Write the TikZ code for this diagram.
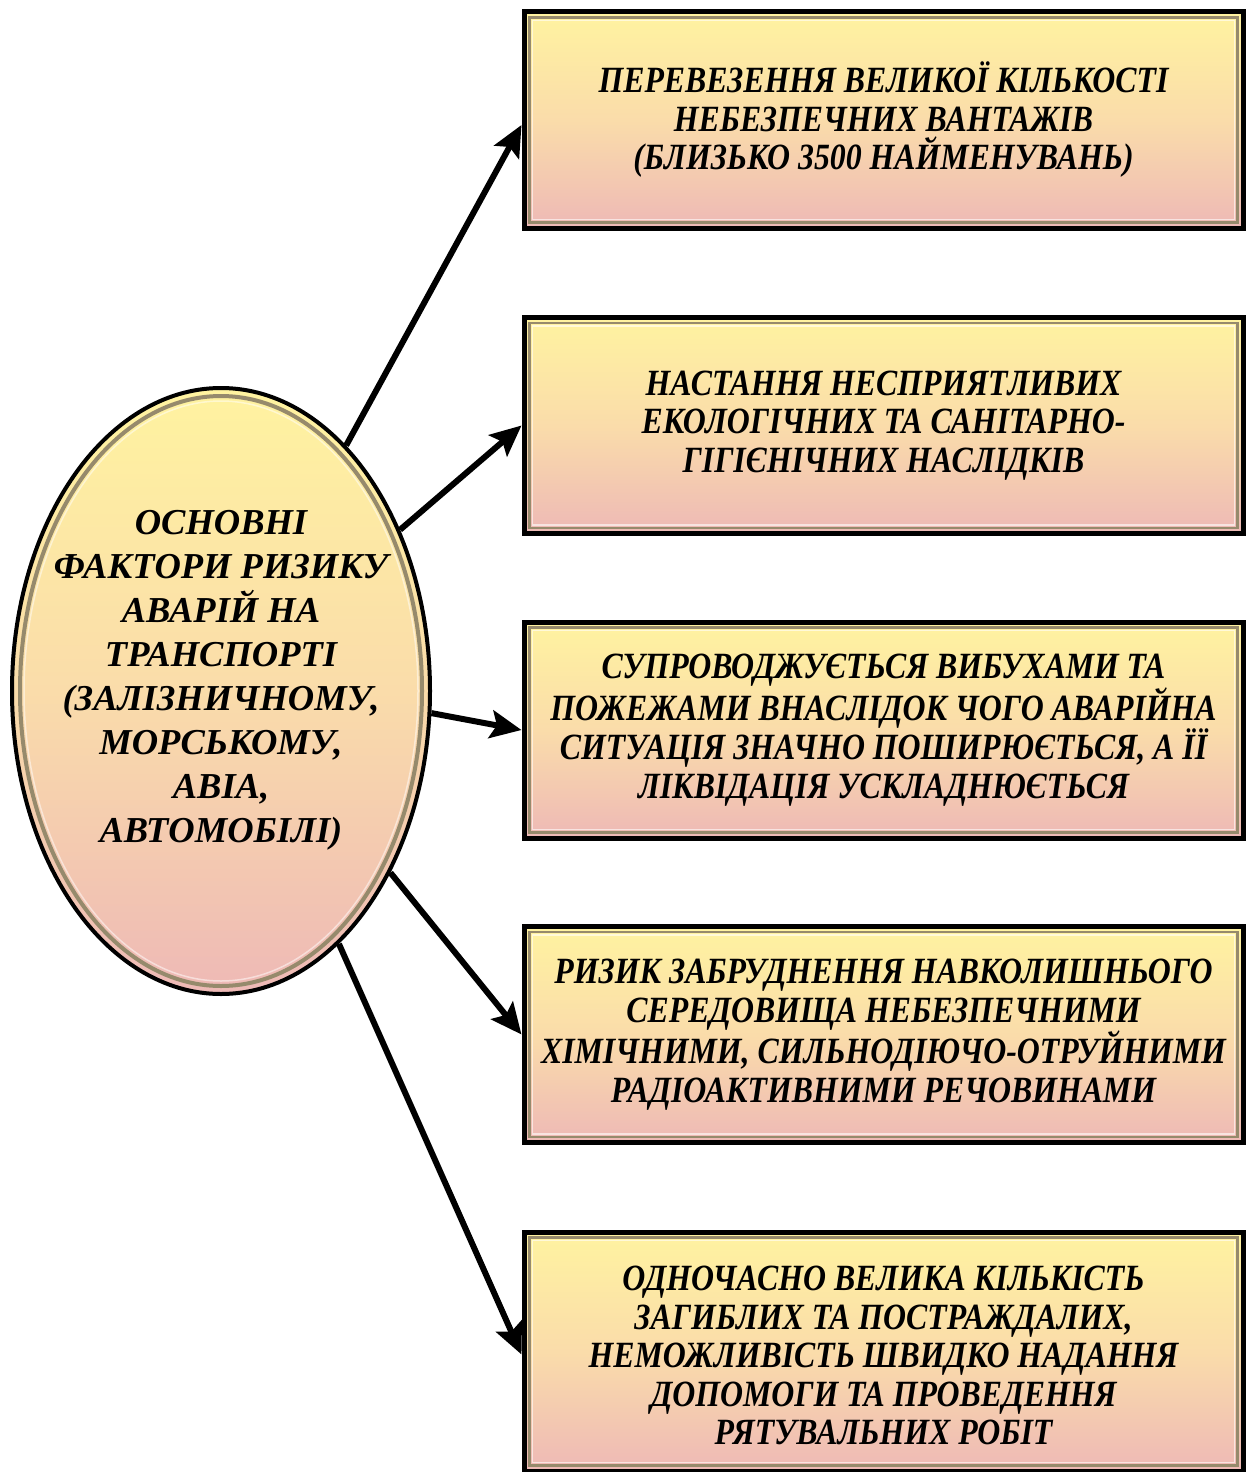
\documentclass[tikz,border=0pt]{standalone}
\usepackage{fontspec}
\setmainfont{Liberation Serif}
\newfontfamily\condfont[FakeStretch=0.86]{Liberation Serif}
\usetikzlibrary{shapes.geometric,arrows.meta}
\definecolor{ytop}{RGB}{255,243,160}
\definecolor{ymid}{RGB}{250,220,170}
\definecolor{ybot}{RGB}{238,185,182}
\definecolor{bev}{RGB}{150,138,108}
\begin{document}
\begin{tikzpicture}[x=1pt,y=-1pt,
  factor/.style={draw=black, line width=5pt, rectangle, minimum width=719pt,
    minimum height=216pt, inner sep=0pt, top color=ytop, bottom color=ybot,
    middle color=ymid},
  factortext/.style={align=center, inner sep=0pt,
    font=\condfont\bfseries\itshape\fontsize{37}{38.5}\selectfont},
  bevel/.style={draw=bev, line width=2.5pt},
  bevlight/.style={draw=white, line width=1.5pt, opacity=0.6},
  centre/.style={draw=black, line width=4pt, ellipse, minimum width=418pt,
    minimum height=606pt, inner sep=0pt, top color=ytop, bottom color=ybot,
    middle color=ymid},
  centretext/.style={align=center, inner sep=0pt,
    font=\bfseries\itshape\fontsize{36.5}{44}\selectfont},
  link/.style={line width=6pt, -{Stealth[length=31pt,width=28pt,inset=6pt]}}]
\useasboundingbox (0,0) rectangle (1246,1472);

\node[centre] (ell) at (221,691) {};
\draw[draw=bev, line width=4pt] (ell.center) ellipse [x radius=201pt, y radius=295pt];
\draw[draw=white, line width=1.5pt, opacity=0.5] (ell.center) ellipse [x radius=197pt, y radius=290pt];
\node[centretext] (elltext) at (221,680) {ОСНОВНІ\\ФАКТОРИ РИЗИКУ\\АВАРІЙ НА\\ТРАНСПОРТІ\\(ЗАЛІЗНИЧНОМУ,\\МОРСЬКОМУ,\\АВІА,\\АВТОМОБІЛІ)};

\node[factor] (b1) at (883.5,120) {};
\node[factor] (b2) at (883.5,425.5) {};
\node[factor] (b3) at (883.5,730) {};
\node[factor] (b4) at (883.5,1034.5) {};
\node[factor, minimum height=239pt] (b5) at (883.5,1351.5) {};

\foreach \b in {b1,b2,b3,b4,b5}{
  \draw[bevel] ([shift={(8,8)}]\b.north west) rectangle ([shift={(-8,-8)}]\b.south east);
  \draw[bevlight] ([shift={(11,11)}]\b.north west) rectangle ([shift={(-11,-11)}]\b.south east);
}

\node[factortext] (t1) at (b1.center) {ПЕРЕВЕЗЕННЯ ВЕЛИКОЇ КІЛЬКОСТІ\\НЕБЕЗПЕЧНИХ ВАНТАЖІВ\\(БЛИЗЬКО 3500 НАЙМЕНУВАНЬ)};
\node[factortext] (t2) at (b2.center) {НАСТАННЯ НЕСПРИЯТЛИВИХ\\ЕКОЛОГІЧНИХ ТА САНІТАРНО-\\ГІГІЄНІЧНИХ НАСЛІДКІВ};
\node[factortext] (t3) at (b3.center) {СУПРОВОДЖУЄТЬСЯ ВИБУХАМИ ТА\\ПОЖЕЖАМИ ВНАСЛІДОК ЧОГО АВАРІЙНА\\СИТУАЦІЯ ЗНАЧНО ПОШИРЮЄТЬСЯ, А ЇЇ\\ЛІКВІДАЦІЯ УСКЛАДНЮЄТЬСЯ};
\node[factortext] (t4) at (b4.center) {РИЗИК ЗАБРУДНЕННЯ НАВКОЛИШНЬОГО\\СЕРЕДОВИЩА НЕБЕЗПЕЧНИМИ\\ХІМІЧНИМИ, СИЛЬНОДІЮЧО-ОТРУЙНИМИ\\РАДІОАКТИВНИМИ РЕЧОВИНАМИ};
\node[factortext] (t5) at ([yshift=-4pt]b5.center) {ОДНОЧАСНО ВЕЛИКА КІЛЬКІСТЬ\\ЗАГИБЛИХ ТА ПОСТРАЖДАЛИХ,\\НЕМОЖЛИВІСТЬ ШВИДКО НАДАННЯ\\ДОПОМОГИ ТА ПРОВЕДЕННЯ\\РЯТУВАЛЬНИХ РОБІТ};

\draw[link] (ell.63) -- ([yshift=-5pt]b1.west);
\draw[link] (ell.42) -- (b2.west);
\draw[link] (ell.-6) -- (b3.west);
\draw[link] (ell.-47) -- (b4.west);
\draw[link] (ell.-65) -- ([yshift=-3pt]b5.west);
\end{tikzpicture}
\end{document}
